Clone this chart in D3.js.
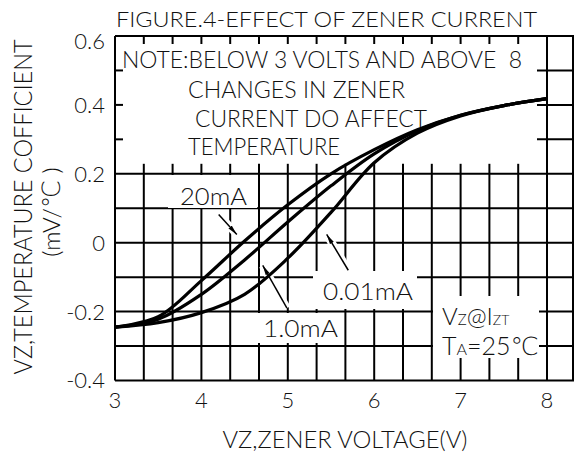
<!DOCTYPE html>
<html>
<head>
<meta charset="utf-8">
<script src="https://cdn.jsdelivr.net/npm/d3@7"></script>
<style>
  body { margin: 0; background: #fff; }
  svg { display: block; }
</style>
</head>
<body>
<svg id="chart" width="574" height="454"></svg>
<script>
// values
const voltTicks = [3, 4, 5, 6, 7, 8];
const coefTicks = [-0.4, -0.2, 0, 0.2, 0.4, 0.6];
const voltages = [3, 3.5, 4, 4.5, 5, 5.5, 6, 6.5, 7, 7.5, 8];
const tc20mA  = [-0.245, -0.215, -0.11, 0.005, 0.11, 0.2, 0.27, 0.328, 0.37, 0.398, 0.418];
const tc1mA   = [-0.245, -0.222, -0.15, -0.05, 0.06, 0.165, 0.258, 0.325, 0.37, 0.398, 0.418];
const tc001mA = [-0.245, -0.232, -0.203, -0.15, -0.045, 0.088, 0.232, 0.318, 0.368, 0.398, 0.418];
const noteLines = ["NOTE:BELOW 3 VOLTS AND ABOVE  8", "CHANGES IN ZENER", "CURRENT DO AFFECT", "TEMPERATURE"];

const font = "Lato, 'Noto Sans', 'DejaVu Sans', sans-serif";
const ink = "#000";
const textInk = "#111";
const svg = d3.select("#chart");

const x = d3.scaleLinear().domain([3, 8]).range([115, 547]);
const y = d3.scaleLinear().domain([-0.4, 0.6]).range([380.5, 36]);
const rightEdge = 573;

// grid: minor vertical lines every 1/3 V, horizontal every 0.1
const gridV = d3.range(0, 16).map(k => 3 + k / 3);
const gridH = d3.range(-4, 7).map(k => k / 10);
const grid = svg.append("g").attr("stroke", ink).attr("stroke-width", 2);

gridV.forEach((v, i) => {
  let full = (i === 0 || i === 15);
  if (full) {
    grid.append("line").attr("x1", x(v)).attr("x2", x(v)).attr("y1", y(0.6)).attr("y2", y(-0.4));
  } else {
    grid.append("line").attr("x1", x(v)).attr("x2", x(v)).attr("y1", y(0.2) - 10).attr("y2", y(-0.4));
    grid.append("line").attr("x1", x(v)).attr("x2", x(v)).attr("y1", y(0.6)).attr("y2", y(0.6) + 8);
  }
});
grid.append("line").attr("x1", rightEdge).attr("x2", rightEdge).attr("y1", y(0.6)).attr("y2", y(-0.4));

gridH.forEach(v => {
  if (v <= 0.2 + 1e-9 || v >= 0.6 - 1e-9) {
    grid.append("line").attr("x1", x(3)).attr("x2", 574).attr("y1", y(v)).attr("y2", y(v));
  } else {
    grid.append("line").attr("x1", x(3)).attr("x2", x(3) + 8).attr("y1", y(v)).attr("y2", y(v));
    grid.append("line").attr("x1", x(8) - 10).attr("x2", 574).attr("y1", y(v)).attr("y2", y(v));
  }
});

// white boxes behind the labels
const boxes = [
  [168, 175, 89, 33],
  [252, 313, 90, 30],
  [313, 271, 104, 38],
  [433, 296, 106, 62]
];
svg.append("g").selectAll("rect").data(boxes).enter().append("rect")
  .attr("x", d => d[0]).attr("y", d => d[1]).attr("width", d => d[2]).attr("height", d => d[3])
  .attr("fill", "#fff");

// arrows, in data units: [fromV, fromC, toV, toC]
const arrows = [
  [4.20, 0.082, 4.41, 0.024],
  [4.99, -0.19, 4.71, -0.066],
  [5.70, -0.08, 5.45, 0.024]
];
svg.append("g").selectAll("line").data(arrows).enter().append("line")
  .attr("x1", d => x(d[0])).attr("y1", d => y(d[1]))
  .attr("x2", d => x(d[2])).attr("y2", d => y(d[3]))
  .attr("stroke", "#fff").attr("stroke-width", 8);

// curves
const line = d3.line().x(d => x(d[0])).y(d => y(d[1])).curve(d3.curveCatmullRom.alpha(0.5));
[tc20mA, tc1mA, tc001mA].forEach(series => {
  svg.append("path")
    .datum(voltages.map((v, i) => [v, series[i]]))
    .attr("d", line)
    .attr("fill", "none")
    .attr("stroke", ink)
    .attr("stroke-width", 3.2);
});

svg.append("defs").append("marker")
  .attr("id", "head").attr("viewBox", "0 0 10 6").attr("refX", 10).attr("refY", 3)
  .attr("markerWidth", 10).attr("markerHeight", 6).attr("markerUnits", "userSpaceOnUse")
  .attr("orient", "auto")
  .append("path").attr("d", "M0,0.8L10,3L0,5.2Z").attr("fill", ink);

svg.append("g").selectAll("line").data(arrows).enter().append("line")
  .attr("x1", d => x(d[0])).attr("y1", d => y(d[1]))
  .attr("x2", d => x(d[2])).attr("y2", d => y(d[3]))
  .attr("stroke", ink).attr("stroke-width", 1.5)
  .attr("marker-end", "url(#head)");

// tick labels (plain hyphen minus, as printed)
svg.append("g").selectAll("text").data(coefTicks).enter().append("text")
  .attr("x", 105)
  .attr("y", d => Math.max(y(d), 41))
  .attr("dy", "0.36em")
  .attr("text-anchor", "end")
  .style("font-family", font).style("font-weight", 300).style("font-size", "22px").attr("fill", textInk)
  .text(d => d === 0 ? "0" : d.toFixed(1));

svg.append("g").selectAll("text").data(voltTicks).enter().append("text")
  .attr("x", d => x(d))
  .attr("y", 408)
  .attr("text-anchor", "middle")
  .style("font-family", font).style("font-weight", 300).style("font-size", "22px").attr("fill", textInk)
  .text(d => d);

// titles
svg.append("text")
  .attr("x", 116).attr("y", 27)
  .attr("textLength", 421).attr("lengthAdjust", "spacingAndGlyphs")
  .style("font-family", font).style("font-weight", 300).style("font-size", "21px").attr("fill", textInk)
  .text("FIGURE.4-EFFECT OF ZENER CURRENT");

svg.append("text")
  .attr("x", 345).attr("y", 448)
  .attr("text-anchor", "middle")
  .attr("textLength", 245).attr("lengthAdjust", "spacingAndGlyphs")
  .style("font-family", font).style("font-weight", 300).style("font-size", "24px").attr("fill", textInk)
  .text("VZ,ZENER VOLTAGE(V)");

svg.append("text")
  .attr("transform", "translate(32,207) rotate(-90)")
  .attr("text-anchor", "middle")
  .attr("textLength", 335).attr("lengthAdjust", "spacingAndGlyphs")
  .style("font-family", font).style("font-weight", 300).style("font-size", "25px").attr("fill", textInk)
  .text("VZ,TEMPERATURE COFFICIENT");

const unitLabel = svg.append("text")
  .attr("transform", "translate(60,212) rotate(-90)")
  .attr("text-anchor", "middle")
  .style("font-family", font).style("font-weight", 300).style("font-size", "24px").attr("fill", textInk);
unitLabel.append("tspan").text("(mV/");
unitLabel.append("tspan").style("font-family", "'DejaVu Sans', sans-serif").style("font-size", "25px").text("\u2103");
unitLabel.append("tspan").text(" )");

// note block
const notePos = [[122, 68, 400], [188, 98, 217], [195, 127, 232], [188, 155, 152]];
svg.append("g").selectAll("text").data(noteLines).enter().append("text")
  .attr("x", (d, i) => notePos[i][0]).attr("y", (d, i) => notePos[i][1])
  .attr("textLength", (d, i) => notePos[i][2]).attr("lengthAdjust", "spacingAndGlyphs")
  .style("white-space", "pre")
  .style("font-family", font).style("font-weight", 300).style("font-size", "23px").attr("fill", textInk)
  .text(d => d);

// curve labels
const curveLabels = [
  ["20mA", 180, 205, 67],
  ["1.0mA", 263, 337, 75],
  ["0.01mA", 323, 300, 90]
];
svg.append("g").selectAll("text").data(curveLabels).enter().append("text")
  .attr("x", d => d[1]).attr("y", d => d[2])
  .attr("textLength", d => d[3]).attr("lengthAdjust", "spacingAndGlyphs")
  .style("font-family", font).style("font-weight", 300).style("font-size", "23px").attr("fill", textInk)
  .text(d => d[0]);

// condition label
const cond1 = svg.append("text").attr("x", 442).attr("y", 325)
  .style("font-family", font).style("font-weight", 300).style("font-size", "24px").attr("fill", textInk);
cond1.append("tspan").text("V");
cond1.append("tspan").style("font-size", "15px").text("Z");
cond1.append("tspan").text("@I");
cond1.append("tspan").style("font-size", "14px").text("ZT");

const cond2 = svg.append("text").attr("x", 442).attr("y", 355)
  .style("font-family", font).style("font-weight", 300).style("font-size", "25px").attr("fill", textInk);
cond2.append("tspan").text("T");
cond2.append("tspan").style("font-size", "16px").text("A");
cond2.append("tspan").text("=25");
cond2.append("tspan").style("font-family", "'DejaVu Sans', sans-serif").style("font-size", "25px").text("\u2103");
</script>
</body>
</html>
